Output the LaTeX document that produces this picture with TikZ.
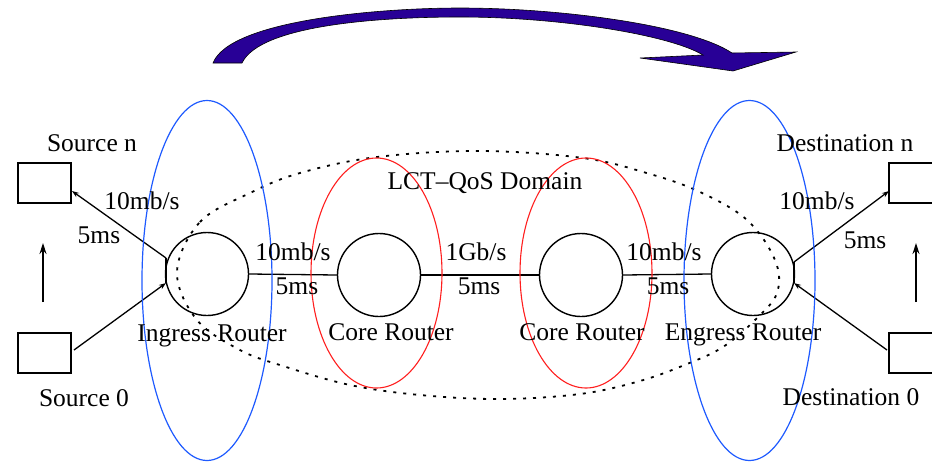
\documentclass[tikz,border=0pt]{standalone}
\usepackage{fontspec}
\setmainfont{Liberation Serif}
\usetikzlibrary{arrows.meta}
\definecolor{arrowblue}{RGB}{40,0,150}
\definecolor{myblue}{RGB}{30,90,255}
\definecolor{myred}{RGB}{255,30,30}
\begin{document}
\begin{tikzpicture}[x=1pt,y=-1pt,
 lbl/.style={anchor=base,inner sep=0pt,font=\fontsize{25.5}{30}\selectfont},
 router/.style={circle,draw,line width=1.4pt,minimum size=83pt,inner sep=0pt},
 hostbox/.style={rectangle,draw,line width=1.4pt,minimum width=53pt,minimum height=40pt,inner sep=0pt},
 link/.style={line width=1.3pt},
 tipa/.style={-{Stealth[length=7pt,width=5pt]}},
 blueell/.style={draw=myblue,line width=1.2pt},
 redell/.style={draw=myred,line width=1.1pt},
 domainline/.style={line width=1.8pt,dash pattern=on 3pt off 7pt},
]
\useasboundingbox (0,0) rectangle (932,461);

% big curved arrow
\filldraw[fill=arrowblue,draw=black,line width=0.6pt]
 (213,63) .. controls (230,20) and (380,8) .. (460,8)
 .. controls (560,8) and (690,25) .. (732,53)
 -- (796,52) -- (733,71) -- (640,58) -- (703,55)
 .. controls (670,35) and (560,17) .. (460,17)
 .. controls (380,17) and (260,25) .. (242,63) -- cycle;

% domain (dotted)
\draw[domainline] plot[smooth cycle, tension=0.6] coordinates {
 (177,272) (200,222) (250,193) (300,173) (377,157) (480,151) (583,158)
 (650,174) (700,192) (747,220) (775,260) (777,293) (755,320) (723,347)
 (687,364) (640,381) (580,394) (500,399) (420,395) (350,385) (283,366)
 (240,350) (197,320)};

% routers
\node[router] (ing) at (207,274) {};
\node[router] (core1) at (379,275) {};
\node[router] (core2) at (581,275) {};
\node[router] (eng) at (753,274) {};

% hosts
\node[hostbox] (srcn) at (44.5,183) {};
\node[hostbox] (src0) at (44.5,353) {};
\node[hostbox] (dstn) at (915.5,183) {};
\node[hostbox] (dst0) at (915.5,353) {};

% attachment points
\coordinate (ina) at (166,258);
\coordinate (inb) at (166,283);
\coordinate (ena) at (794,262);
\coordinate (enb) at (794,283);
\coordinate (srcnp) at (72,191);
\coordinate (src0p) at (74,350);
\coordinate (dstnp) at (889,191);
\coordinate (dst0p) at (887,350);

% links
\draw[link] (ina) -- (inb);
\draw[link] (ena) -- (enb);
\draw[link,tipa] (ina) -- (srcnp);
\draw[link,tipa] (src0p) -- (inb);
\draw[link,tipa] (ena) -- (dstnp);
\draw[link,tipa] (dst0p) -- (enb);
\draw[link] (ing.east) -- (core1.west);
\draw[link] (core1.east) -- (core2.west);
\draw[link] (core2.east) -- (eng.west);

% vertical arrows
\coordinate (lva) at (43,302);
\coordinate (lvb) at (43,243);
\coordinate (rva) at (916,302);
\coordinate (rvb) at (916,243);
\draw[link,-{Stealth[length=11pt,width=7pt]}] (lva) -- (lvb);
\draw[link,-{Stealth[length=11pt,width=7pt]}] (rva) -- (rvb);

% ellipses
\draw[blueell] (207,280.5) ellipse [x radius=65, y radius=180];
\draw[blueell] (749.5,280.5) ellipse [x radius=65.5, y radius=180];
\draw[redell] (376.5,273) ellipse [x radius=65.5, y radius=115];
\draw[redell] (586,273) ellipse [x radius=66, y radius=115];

% labels
\node[lbl] (lsn) at (92,151) {Source n};
\node[lbl] (ls0) at (84,406) {Source 0};
\node[lbl] (lr1) at (142,209) {10mb/s};
\node[lbl] (ld1) at (99,243) {5ms};
\node[lbl] (ling) at (212,341) {Ingress Router};
\node[lbl] (lr2) at (293,260) {10mb/s};
\node[lbl] (ld2) at (297,294) {5ms};
\node[lbl] (lcore1) at (391,340) {Core Router};
\node[lbl] (lr3) at (476,260) {1Gb/s};
\node[lbl] (ld3) at (479,294) {5ms};
\node[lbl] (lcore2) at (582,340) {Core Router};
\node[lbl] (lr4) at (664,260) {10mb/s};
\node[lbl] (ld4) at (668,294) {5ms};
\node[lbl] (leng) at (743,340) {Engress Router};
\node[lbl] (ldom) at (485,189) {LCT--QoS Domain};
\node[lbl] (ldn) at (845,151) {Destination n};
\node[lbl] (ld0) at (851,405) {Destination 0};
\node[lbl] (lr5) at (817,209) {10mb/s};
\node[lbl] (ld5) at (865,248) {5ms};
\end{tikzpicture}
\end{document}
